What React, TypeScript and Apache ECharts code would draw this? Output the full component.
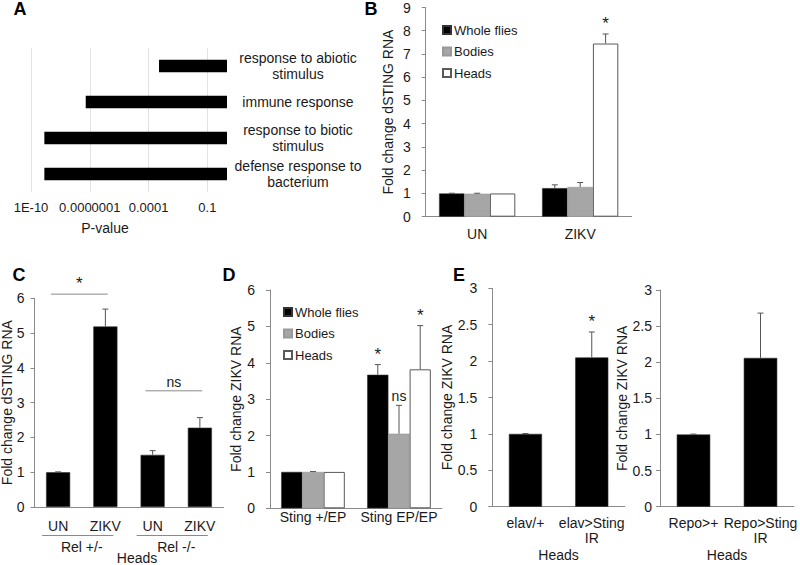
import React, { useEffect, useRef } from "react";
import * as echarts from "echarts";

// ---------- Panel A ----------
const aCategories = [
  "response to abiotic stimulus",
  "immune response",
  "response to biotic stimulus",
  "defense response to bacterium",
];
const aPValues = [3.4e-4, 6.2e-8, 4.8e-10, 4.8e-10];
const aTickValues = [-10, -7, -4, -1];
const aTickLabels = ["1E-10", "0.0000001", "0.0001", "0.1"];

// ---------- Panel B ----------
const bCategories = ["UN", "ZIKV"];
const bWhole = [1.0, 1.23];
const bWholeErr = [0.01, 0.14];
const bBodies = [0.99, 1.28];
const bBodiesErr = [0.02, 0.19];
const bHeads = [1.0, 7.45];
const bHeadsErr = [0.0, 0.41];
const bHeadsMarks = ["", "*"];

// ---------- Panel C ----------
const cCategories = ["UN", "ZIKV", "UN", "ZIKV"];
const cValues = [1.0, 5.19, 1.5, 2.28];
const cErr = [0.01, 0.5, 0.12, 0.29];
const cBracketFrom = [0, 2];
const cBracketTo = [1, 3];
const cBracketY = [6.12, 3.34];
const cBracketText = ["*", "ns"];
const cGroupNames = ["Rel +/-", "Rel -/-"];
const cGroupFrom = [0, 2];
const cGroupTo = [1, 3];

// ---------- Panel D ----------
const dCategories = ["Sting +/EP", "Sting EP/EP"];
const dWhole = [1.0, 3.67];
const dWholeErr = [0.0, 0.28];
const dWholeMarks = ["", "*"];
const dBodies = [1.0, 2.05];
const dBodiesErr = [0.01, 0.78];
const dBodiesMarks = ["", "ns"];
const dHeads = [1.0, 3.82];
const dHeadsErr = [0.0, 1.2];
const dHeadsMarks = ["", "*"];

// ---------- Panel E ----------
const e1Categories = ["elav/+", "elav>Sting IR"];
const e1Values = [1.0, 2.05];
const e1Err = [0.005, 0.35];
const e1Marks = ["", "*"];
const e2Categories = ["Repo>+", "Repo>Sting IR"];
const e2Values = [1.0, 2.06];
const e2Err = [0.005, 0.62];
const e2Marks = ["", ""];

const legendNames = ["Whole flies", "Bodies", "Heads"];

const FONT = "'Liberation Sans', Arial, sans-serif";
const TXT = "#1a1a1a";
const AXIS = "#8a8a8a";
const ERR = "#555555";

const blackStyle = { color: "#000000", borderColor: "#333333", borderWidth: 0.6 };
const greyStyle = { color: "#a6a6a6", borderColor: "#999999", borderWidth: 0.6 };
const whiteStyle = { color: "#ffffff", borderColor: "#595959", borderWidth: 1 };

function errSeries(gi: number, vals: number[], errs: number[], marks: string[] | null, slot: number, n: number, frac: number) {
  return {
    type: "custom",
    xAxisIndex: gi,
    yAxisIndex: gi,
    silent: true,
    z: 5,
    clip: false,
    data: vals.map((v, i) => [i, v, errs[i]]),
    encode: { x: 0, y: 1 },
    renderItem: (params: any, api: any) => {
      const i = api.value(0);
      const v = api.value(1);
      const e = api.value(2);
      const band = api.coord([1, 0])[0] - api.coord([0, 0])[0];
      const bw = (band * frac) / n;
      const dx = (slot - (n - 1) / 2) * bw;
      const p0 = api.coord([i, v]);
      const p1 = api.coord([i, v + e]);
      const x = p0[0] + dx;
      const children: any[] = [];
      if (e > 0.003) {
        children.push({ type: "line", shape: { x1: x, y1: p0[1], x2: x, y2: p1[1] }, style: { stroke: ERR, lineWidth: 1 } });
        children.push({ type: "line", shape: { x1: x - 3, y1: p1[1], x2: x + 3, y2: p1[1] }, style: { stroke: ERR, lineWidth: 1 } });
      }
      const lab = marks ? marks[params.dataIndex] : "";
      if (lab) {
        children.push({
          type: "text",
          style: { x, y: p1[1] - 2, text: lab, fill: TXT, fontSize: lab === "*" ? 17 : 14, fontFamily: FONT, align: "center", verticalAlign: "bottom" },
        });
      }
      return { type: "group", children };
    },
  };
}

function valY(gi: number, max: number, interval: number, margin: number, name: string, nameGap: number, moveOverlap = true) {
  return {
    type: "value",
    gridIndex: gi,
    min: 0,
    max,
    interval,
    name,
    nameLocation: "middle",
    nameGap,
    nameRotate: 90,
    nameMoveOverlap: moveOverlap,
    nameTextStyle: { fontSize: 14, color: TXT, fontFamily: FONT },
    axisLine: { show: true, lineStyle: { color: AXIS, width: 1 } },
    axisTick: { show: true, length: 4, lineStyle: { color: AXIS } },
    splitLine: { show: false },
    axisLabel: { fontSize: 14, color: TXT, fontFamily: FONT, margin },
  };
}

function catX(gi: number, data: string[], margin: number, name?: string, nameGap?: number) {
  return {
    type: "category",
    gridIndex: gi,
    data,
    axisLine: { show: true, lineStyle: { color: AXIS, width: 1 } },
    axisTick: { show: false },
    axisLabel: {
      fontSize: 14,
      color: TXT,
      fontFamily: FONT,
      margin,
      interval: 0,
      lineHeight: 15,
      formatter: (v: string) => v.replace(" IR", "\nIR"),
    },
    name: name || "",
    nameLocation: "middle",
    nameGap: nameGap || 0,
    nameTextStyle: { fontSize: 14, color: TXT, fontFamily: FONT },
  };
}

function legendAt(left: number, top: number) {
  return {
    data: legendNames,
    orient: "vertical",
    left,
    top,
    itemWidth: 8,
    itemHeight: 8,
    itemGap: 6.5,
    icon: "rect",
    selectedMode: false,
    padding: 0,
    textStyle: { fontSize: 13, color: TXT, fontFamily: FONT, lineHeight: 15, padding: [0, 0, 0, -2] },
  };
}

const gridBase = { containLabel: false, outerBoundsMode: "none" };

function buildOption() {
  const aLog = aPValues.map((p) => Math.log10(p));
  return {
    animation: false,
    backgroundColor: "#ffffff",
    textStyle: { fontFamily: FONT },
    grid: [
      { ...gridBase, left: 31, top: 48, width: 196, height: 144 },
      { ...gridBase, left: 425.7, top: 7.5, width: 206, height: 209.2 },
      { ...gridBase, left: 34.5, top: 298.3, width: 189, height: 208.7 },
      { ...gridBase, left: 270, top: 290, width: 172, height: 218.3 },
      { ...gridBase, left: 492.3, top: 288.3, width: 132.6, height: 218.4 },
      { ...gridBase, left: 660, top: 290, width: 134, height: 216.7 },
    ],
    legend: [legendAt(442, 22.5), legendAt(283, 304.5)],
    xAxis: [
      {
        type: "value",
        gridIndex: 0,
        min: -10,
        max: 0,
        axisLine: { show: false },
        axisTick: { show: false, customValues: aTickValues },
        splitLine: { show: true, lineStyle: { color: "#e2e2e2", width: 1 } },
        axisLabel: {
          customValues: aTickValues,
          fontSize: 13,
          color: TXT,
          fontFamily: FONT,
          margin: 9,
          formatter: (v: number) => {
            const k = aTickValues.indexOf(Math.round(v));
            return k >= 0 ? aTickLabels[k] : "";
          },
        },
      },
      catX(1, bCategories, 10),
      catX(2, cCategories, 11),
      catX(3, dCategories, 1),
      catX(4, e1Categories, 9, "Heads", 41),
      catX(5, e2Categories, 9, "Heads", 41),
    ],
    yAxis: [
      {
        type: "category",
        gridIndex: 0,
        data: aCategories,
        inverse: true,
        position: "right",
        axisLine: { show: false },
        axisTick: { show: false },
        axisLabel: {
          fontSize: 14,
          color: TXT,
          fontFamily: FONT,
          margin: 71,
          align: "center",
          lineHeight: 16,
          formatter: (v: string) => v.replace(/ (stimulus|bacterium)$/, "\n$1"),
        },
      },
      valY(1, 9, 1, 15, "Fold change dSTING RNA", 31),
      valY(2, 6, 1, 10, "Fold change dSTING RNA", 21, false),
      valY(3, 6, 1, 15, "Fold change ZIKV RNA", 22),
      valY(4, 3, 0.5, 15, "Fold change ZIKV RNA", 27),
      valY(5, 3, 0.5, 8, "Fold change ZIKV RNA", 26),
    ],
    graphic: [
      { type: "text", x: 20, y: 9, style: { text: "A", font: `bold 18px ${FONT}`, fill: "#000", align: "center", verticalAlign: "middle" } },
      { type: "text", x: 371, y: 9, style: { text: "B", font: `bold 18px ${FONT}`, fill: "#000", align: "center", verticalAlign: "middle" } },
      { type: "text", x: 19, y: 275, style: { text: "C", font: `bold 18px ${FONT}`, fill: "#000", align: "center", verticalAlign: "middle" } },
      { type: "text", x: 229, y: 275, style: { text: "D", font: `bold 18px ${FONT}`, fill: "#000", align: "center", verticalAlign: "middle" } },
      { type: "text", x: 459, y: 275, style: { text: "E", font: `bold 18px ${FONT}`, fill: "#000", align: "center", verticalAlign: "middle" } },
      { type: "text", x: 105, y: 228, style: { text: "P-value", font: `14px ${FONT}`, fill: TXT, align: "center", verticalAlign: "middle" } },
      { type: "text", x: 137, y: 558, style: { text: "Heads", font: `14px ${FONT}`, fill: TXT, align: "center", verticalAlign: "middle" } },
    ],
    series: [
      // A
      { type: "bar", xAxisIndex: 0, yAxisIndex: 0, data: aLog, barWidth: "35%", itemStyle: { color: "#000000" }, z: 3 },
      // B
      { type: "bar", name: "Whole flies", xAxisIndex: 1, yAxisIndex: 1, data: bWhole, barGap: "0%", barCategoryGap: "26%", itemStyle: blackStyle },
      { type: "bar", name: "Bodies", xAxisIndex: 1, yAxisIndex: 1, data: bBodies, barGap: "0%", barCategoryGap: "26%", itemStyle: greyStyle },
      { type: "bar", name: "Heads", xAxisIndex: 1, yAxisIndex: 1, data: bHeads, barGap: "0%", barCategoryGap: "26%", itemStyle: whiteStyle },
      errSeries(1, bWhole, bWholeErr, null, 0, 3, 0.74),
      errSeries(1, bBodies, bBodiesErr, null, 1, 3, 0.74),
      errSeries(1, bHeads, bHeadsErr, bHeadsMarks, 2, 3, 0.74),
      // C
      { type: "bar", xAxisIndex: 2, yAxisIndex: 2, data: cValues, barWidth: "51%", itemStyle: blackStyle },
      errSeries(2, cValues, cErr, null, 0, 1, 0.51),
      {
        type: "custom",
        xAxisIndex: 2,
        yAxisIndex: 2,
        silent: true,
        clip: false,
        data: cBracketFrom.map((f, i) => [f, cBracketY[i]]),
        encode: { x: 0, y: 1 },
        renderItem: (params: any, api: any) => {
          const k = params.dataIndex;
          const band = api.coord([1, 0])[0] - api.coord([0, 0])[0];
          const a = api.coord([cBracketFrom[k], cBracketY[k]]);
          const b = api.coord([cBracketTo[k], cBracketY[k]]);
          const x1 = a[0] - 0.15 * band;
          const x2 = b[0] + 0.05 * band;
          const txt = cBracketText[k];
          return {
            type: "group",
            children: [
              { type: "line", shape: { x1, y1: a[1], x2, y2: a[1] }, style: { stroke: AXIS, lineWidth: 1 } },
              {
                type: "text",
                style: { x: (x1 + x2) / 2, y: a[1] - 2, text: txt, fill: TXT, fontSize: txt === "*" ? 17 : 14, fontFamily: FONT, align: "center", verticalAlign: "bottom" },
              },
            ],
          };
        },
      },
      {
        type: "custom",
        xAxisIndex: 2,
        yAxisIndex: 2,
        silent: true,
        clip: false,
        data: cGroupFrom.map((f) => [f, 0]),
        encode: { x: 0, y: 1 },
        renderItem: (params: any, api: any) => {
          const k = params.dataIndex;
          const a = api.coord([cGroupFrom[k], 0]);
          const b = api.coord([cGroupTo[k], 0]);
          const yLine = a[1] + 28.5;
          return {
            type: "group",
            children: [
              { type: "line", shape: { x1: a[0] - 16, y1: yLine, x2: b[0] + 8, y2: yLine }, style: { stroke: AXIS, lineWidth: 1 } },
              {
                type: "text",
                style: { x: (a[0] + b[0]) / 2, y: yLine + 11, text: cGroupNames[k], fill: TXT, fontSize: 14, fontFamily: FONT, align: "center", verticalAlign: "middle" },
              },
            ],
          };
        },
      },
      // D
      { type: "bar", name: "Whole flies", xAxisIndex: 3, yAxisIndex: 3, data: dWhole, barGap: "0%", barCategoryGap: "26%", itemStyle: blackStyle },
      { type: "bar", name: "Bodies", xAxisIndex: 3, yAxisIndex: 3, data: dBodies, barGap: "0%", barCategoryGap: "26%", itemStyle: greyStyle },
      { type: "bar", name: "Heads", xAxisIndex: 3, yAxisIndex: 3, data: dHeads, barGap: "0%", barCategoryGap: "26%", itemStyle: whiteStyle },
      errSeries(3, dWhole, dWholeErr, dWholeMarks, 0, 3, 0.74),
      errSeries(3, dBodies, dBodiesErr, dBodiesMarks, 1, 3, 0.74),
      errSeries(3, dHeads, dHeadsErr, dHeadsMarks, 2, 3, 0.74),
      // E
      { type: "bar", xAxisIndex: 4, yAxisIndex: 4, data: e1Values, barWidth: "50%", itemStyle: blackStyle },
      errSeries(4, e1Values, e1Err, e1Marks, 0, 1, 0.5),
      { type: "bar", xAxisIndex: 5, yAxisIndex: 5, data: e2Values, barWidth: "50%", itemStyle: blackStyle },
      errSeries(5, e2Values, e2Err, e2Marks, 0, 1, 0.5),
    ],
  };
}

export default function App() {
  const ref = useRef<HTMLDivElement>(null);
  useEffect(() => {
    if (!ref.current) return;
    const chart = echarts.init(ref.current, null, { renderer: "svg" });
    chart.setOption(buildOption() as any);
    return () => chart.dispose();
  }, []);
  return <div ref={ref} style={{ position: "absolute", left: 0, top: 0, width: 800, height: 565 }} />;
}
